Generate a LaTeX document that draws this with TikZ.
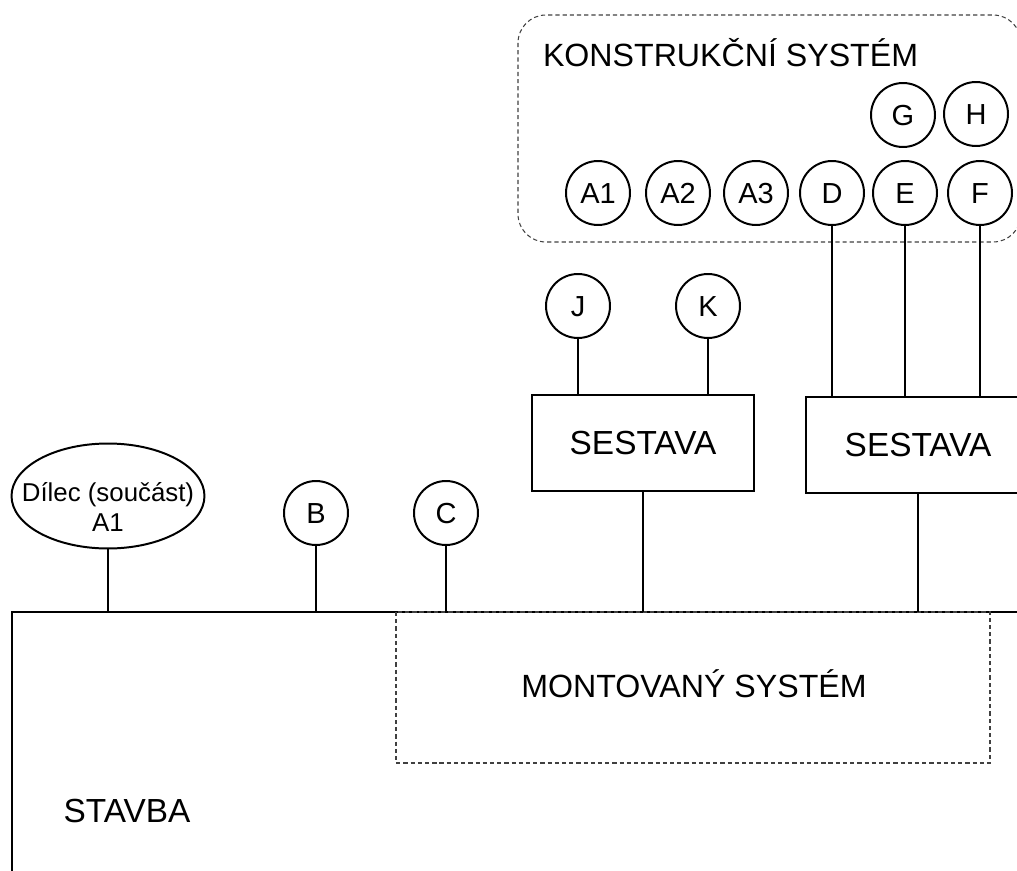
\documentclass[tikz,border=0pt]{standalone}
\usepackage{fontspec}
\setmainfont{Liberation Sans}
\usepackage{tikz}
\usetikzlibrary{shapes.geometric}

\begin{document}
\begin{tikzpicture}[x=0.02cm, y=-0.02cm, line width=1.13pt,
    part/.style={circle, draw, minimum size=1.28cm, inner sep=0pt, text height=11.8pt, text depth=0pt,
        font=\fontsize{16.5}{19}\selectfont},
    group/.style={rectangle, draw, minimum height=1.92cm, inner sep=0pt, font=\fontsize{19}{22}\selectfont},
    title/.style={font=\fontsize{18.3}{21}\selectfont, inner sep=0pt},
    zone/.style={draw=black!75, line width=0.6pt, dash pattern=on 2.4pt off 1.7pt}]
    \useasboundingbox (0,0) rectangle (1017,871);
    \clip (0,0) rectangle (1017,871);

    % stavba
    \coordinate (ground) at (12,612);
    \draw (12,900) -- (ground) -- (1040,612);
    \node[title, font=\fontsize{19}{22}\selectfont] (stavba) at (127,811) {STAVBA};

    % montovany system
    \draw[zone] (396,612) rectangle (990,763);
    \node[title] (montovany) at (694,684) {MONTOVANÝ SYSTÉM};

    % konstrukcni system
    \draw[zone, rounded corners=0.56cm] (518,15) rectangle (1021,242);
    \node[title, anchor=west] (konstrukcni) at (542,53) {KONSTRUKČNÍ SYSTÉM};

    \node[part] (a1) at (598,193) {A1};
    \node[part] (a2) at (678,193) {A2};
    \node[part] (a3) at (756,193) {A3};
    \node[part] (d) at (832,193) {D};
    \node[part] (e) at (905,193) {E};
    \node[part] (f) at (980,193) {F};
    \node[part] (g) at (903,115) {G};
    \node[part] (h) at (976,114) {H};

    % dilce na stavbe
    \node[ellipse, draw, minimum width=3.86cm, minimum height=2.1cm, inner sep=0pt] (dilec) at (108,496) {};
    \node[align=center, inner sep=0pt, font=\fontsize{14.7}{17.3}\selectfont] (dilectext) at (108,507) {Dílec (součást)\\A1};
    \node[part] (b) at (316,513) {B};
    \node[part] (c) at (446,513) {C};

    % sestavy
    \node[group, minimum width=4.44cm] (sestava1) at (643,443) {SESTAVA};
    \node[group, minimum width=4.48cm] (sestava2) at (918,445) {SESTAVA};
    \node[part] (j) at (578,306) {J};
    \node[part] (k) at (708,306) {K};

    \draw (dilec) -- (dilec |- ground);
    \draw (b) -- (b |- ground);
    \draw (c) -- (c |- ground);
    \draw (sestava1) -- (sestava1 |- ground);
    \draw (sestava2) -- (sestava2 |- ground);
    \draw (j) -- (j |- sestava1.north);
    \draw (k) -- (k |- sestava1.north);
    \draw (d) -- (d |- sestava2.north);
    \draw (e) -- (e |- sestava2.north);
    \draw (f) -- (f |- sestava2.north);
\end{tikzpicture}
\end{document}
